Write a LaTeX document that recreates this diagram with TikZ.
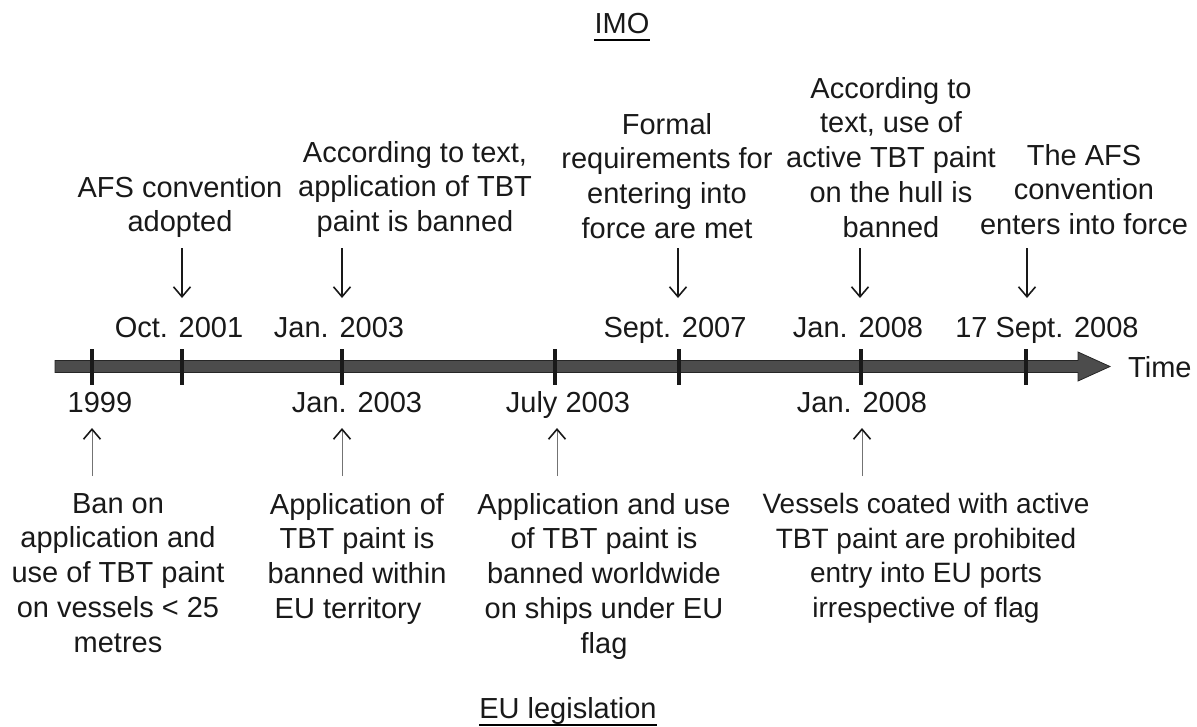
\documentclass[tikz,border=0pt]{standalone}
\usepackage{fontspec}
\setmainfont{Liberation Sans}
\usetikzlibrary{arrows.meta}
\begin{document}
\begin{tikzpicture}[x=1pt,y=-1pt,
  txt/.style={font=\fontsize{29}{34.75}\selectfont, align=center, inner sep=0pt, text=black!90, anchor=north},
  datelbl/.style={font=\fontsize{29}{34}\selectfont, inner sep=0pt, anchor=base, text=black!90},
  ttl/.style={font=\fontsize{29}{34}\selectfont, inner sep=0pt, anchor=base, text=black!90},
  tickmark/.style={line width=4pt, draw=black!90},
  downarr/.style={-{Straight Barb[length=10pt,width=17pt,line width=1.6pt]}, line width=1.6pt, draw=black!90},
  uparr/.style={-{Straight Barb[length=10pt,width=17pt,line width=1.6pt,color=black!90]}, line width=0.9pt, draw=black!55}]
\useasboundingbox (0,0) rectangle (1197,726);

% titles
\node[ttl] (imo) at (622,33) {IMO};
\draw[line width=2.6pt] ([yshift=-7pt]imo.base west) -- ([yshift=-7pt]imo.base east);
\node[ttl] (eu) at (568,718) {EU legislation};
\draw[line width=1.8pt] ([yshift=-7pt]eu.base west) -- ([yshift=-7pt]eu.base east);

% timeline bar
\coordinate (barL) at (55,366.5);
\coordinate (barT) at (1110,366.5);
\filldraw[fill=black!70, draw=black!85, line width=0.8pt]
  (55,360.5) -- (1078,360.5) -- (1078,352) -- (barT) -- (1078,381) -- (1078,372.5) -- (55,372.5) -- cycle;
\node[font=\fontsize{29}{34}\selectfont, inner sep=0pt, anchor=west, text=black!90] (time) at (1128,367) {Time};

% ticks
\foreach \x/\n in {92/t1,182/t2,342/t3,555/t4,679/t5,861/t6,1026/t7}{
  \coordinate (\n a) at (\x,349);
  \coordinate (\n b) at (\x,385);
  \draw[tickmark] (\n a) -- (\n b);
}

% top dates
\node[datelbl] (d2) at (179,337) {Oct. 2001};
\node[datelbl] (d3) at (339,337) {Jan. 2003};
\node[datelbl] (d5) at (675,337) {Sept. 2007};
\node[datelbl] (d6) at (858,337) {Jan. 2008};
\node[datelbl] (d7) at (1047,337) {17 Sept. 2008};

% bottom dates
\node[datelbl] (b1) at (100,412) {1999};
\node[datelbl] (b3) at (357,412) {Jan. 2003};
\node[datelbl] (b4) at (568,412) {July 2003};
\node[datelbl] (b6) at (862,412) {Jan. 2008};

% top texts
\node[txt] (e2) at (180,176) {AFS convention\\adopted};
\node[txt] (e3) at (415,141) {According to text,\\application of TBT\\paint is banned};
\node[txt] (e5) at (667,113) {Formal\\requirements for\\entering into\\force are met};
\node[txt] (e6) at (891,77) {According to\\text, use of\\active TBT paint\\on the hull is\\banned};
\node[txt] (e7) at (1084,144) {The AFS\\convention\\enters into force};

% bottom texts
\node[txt] (f1) at (118,493) {Ban on\\application and\\use of TBT paint\\on vessels < 25\\metres};
\node[txt] (f3) at (357,493) {Application of\\TBT paint is\\banned within\\EU territory\hspace*{18pt}};
\node[txt] (f4) at (604,493) {Application and use\\of TBT paint is\\banned worldwide\\on ships under EU\\flag};
\node[txt, font=\fontsize{28}{34.75}\selectfont] (f6) at (926,493) {Vessels coated with active\\TBT paint are prohibited\\entry into EU ports\\irrespective of flag};

% top arrows
\foreach \x/\n in {182/u2,342/u3,678/u5,860/u6,1027/u7}{
  \coordinate (\n s) at (\x,248);
  \coordinate (\n e) at (\x,298);
  \draw[downarr] (\n s) -- (\n e);
}
% bottom arrows
\foreach \x/\n in {92/v1,342/v3,557/v4,862/v6}{
  \coordinate (\n s) at (\x,476);
  \coordinate (\n e) at (\x,428);
  \draw[uparr] (\n s) -- (\n e);
}
\end{tikzpicture}
\end{document}
